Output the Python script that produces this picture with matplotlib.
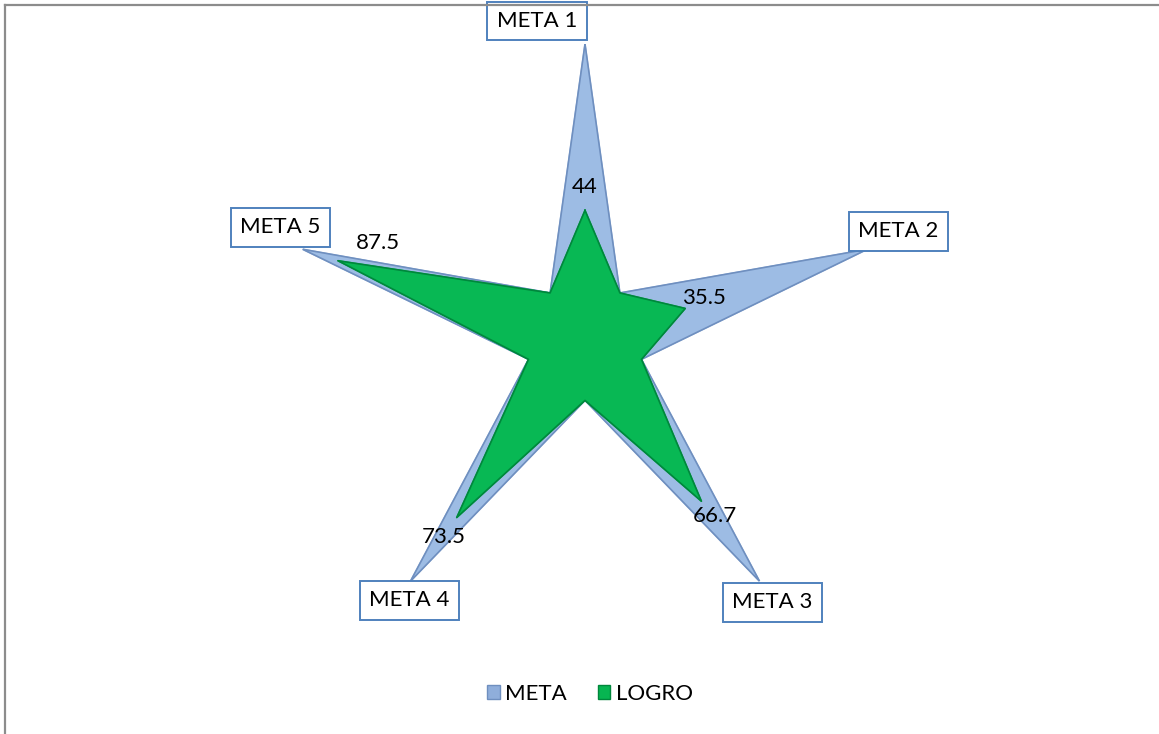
import numpy as np
import matplotlib
matplotlib.use("Agg")
import matplotlib.pyplot as plt
from matplotlib.patches import Patch
from matplotlib.lines import Line2D

plt.rcParams['font.family'] = ['Lato', 'DejaVu Sans']

# Categories (star tips) and the unlabeled inner points between them
categories = ["META 1", "", "META 2", "", "META 3", "", "META 4", "", "META 5", ""]
meta = [100, 20, 100, 20, 100, 20, 100, 20, 100, 20]
logro = [44, 20, 35.5, 20, 66.7, 20, 73.5, 20, 87.5, 20]
series_names = ["META", "LOGRO"]

W, H = 1159, 734
fig = plt.figure(figsize=(W / 100, H / 100), dpi=100)

cx, cy, R = 585, 341, 297
ax = fig.add_axes([(cx - R) / W, (H - cy - R) / H, 2 * R / W, 2 * R / H], projection='polar')
ax.set_theta_zero_location('N')
ax.set_theta_direction(-1)
ax.set_ylim(0, 100)

n = len(categories)
theta = np.linspace(0, 2 * np.pi, n, endpoint=False)
th_c = np.concatenate([theta, theta[:1]])

meta_c = np.concatenate([meta, meta[:1]])
logro_c = np.concatenate([logro, logro[:1]])

ax.fill(th_c, meta_c, color='#9DBCE4', zorder=2)
ax.plot(th_c, meta_c, color='#6F8FBF', lw=1.2, zorder=3)
ax.fill(th_c, logro_c, color='#08B854', zorder=4)
ax.plot(th_c, logro_c, color='#00873C', lw=1.2, zorder=5)

ax.grid(False)
ax.set_xticks([])
ax.set_yticks([])
ax.spines['polar'].set_visible(False)
ax.patch.set_alpha(0)

FS = 16

# Category label boxes (offsets in pixels from tips)
label_offsets = {"META 1": (-48, 23), "META 2": (31, 18), "META 3": (13, -21),
                 "META 4": (-1, -19), "META 5": (-22, 22)}
for t, c, v in zip(theta, categories, meta):
    if not c:
        continue
    ax.annotate(c, xy=(t, v), xytext=label_offsets[c], textcoords='offset pixels',
                ha='center', va='center', fontsize=FS, color='black', zorder=10,
                bbox=dict(boxstyle='square,pad=0.42', fc='white', ec='#4F81BD', lw=1.4),
                annotation_clip=False)

# LOGRO value labels
value_offsets = [(0, 23), None, (19, 10), None, (13, -15), None, (-13, -19), None, (40, 18), None]
for t, v, off in zip(theta, logro, value_offsets):
    if off is None:
        continue
    txt = f"{v:g}"
    ax.annotate(txt, xy=(t, v), xytext=off, textcoords='offset pixels',
                ha='center', va='center', fontsize=FS, color='black', zorder=11,
                annotation_clip=False)

handles = [Patch(facecolor='#8FAEDB', edgecolor='#6F8FBF', label=series_names[0]),
           Patch(facecolor='#07B551', edgecolor='#00873C', label=series_names[1])]
fig.legend(handles=handles, loc='center', bbox_to_anchor=(590 / W, 1 - 694 / H),
           ncol=2, frameon=False, fontsize=FS, handlelength=0.55, handleheight=0.6,
           handletextpad=0.25, columnspacing=1.4)

# chart border (left and top)
fig.add_artist(Line2D([5 / W, 5 / W], [0, 1 - 5 / H], color='#8C8C8C', lw=1.6))
fig.add_artist(Line2D([5 / W, 1], [1 - 5 / H, 1 - 5 / H], color='#8C8C8C', lw=1.6))

fig.savefig("out.png", dpi=100)
